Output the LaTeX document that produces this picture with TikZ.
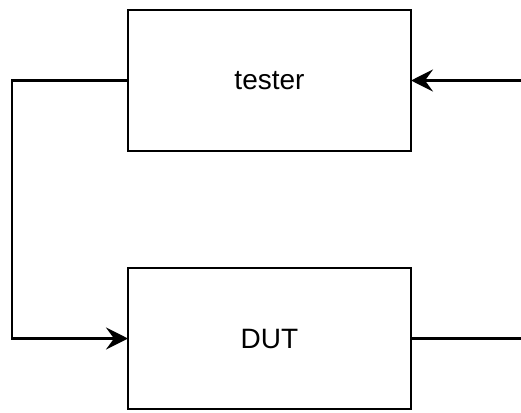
\documentclass[tikz,border=0pt]{standalone}
\usepackage{fontspec}
\setmainfont{Liberation Sans}
\usetikzlibrary{arrows.meta,positioning}
\tikzstyle{block} = [rectangle, minimum width=283pt, minimum height=141pt, text centered, draw=black, line width=2.5pt, outer sep=0pt, font=\fontsize{28}{32}\selectfont]
\tikzstyle{arrow} = [line width=2.5pt,-{Stealth[length=22pt,width=22pt,inset=8pt]}]
\tikzstyle{wire} = [line width=2.5pt]

\begin{document}
\begin{tikzpicture}[x=1pt, y=-1pt, node distance=117pt]
\useasboundingbox (0,0) rectangle (521,412);

\node (tester) [block] at (269.5,80.5) {tester};
\node (dut) [block, below=of tester] {DUT};
\coordinate (fb) at (12,80.5);
\coordinate (inR) at (521,80.5);
\coordinate (outR) at (521,338.5);

\draw [arrow] (inR) -- (tester);
\draw [arrow] (tester.west) -- (fb) |- (dut.west);
\draw [wire] (dut.east) -- (outR);

\end{tikzpicture}
\end{document}
